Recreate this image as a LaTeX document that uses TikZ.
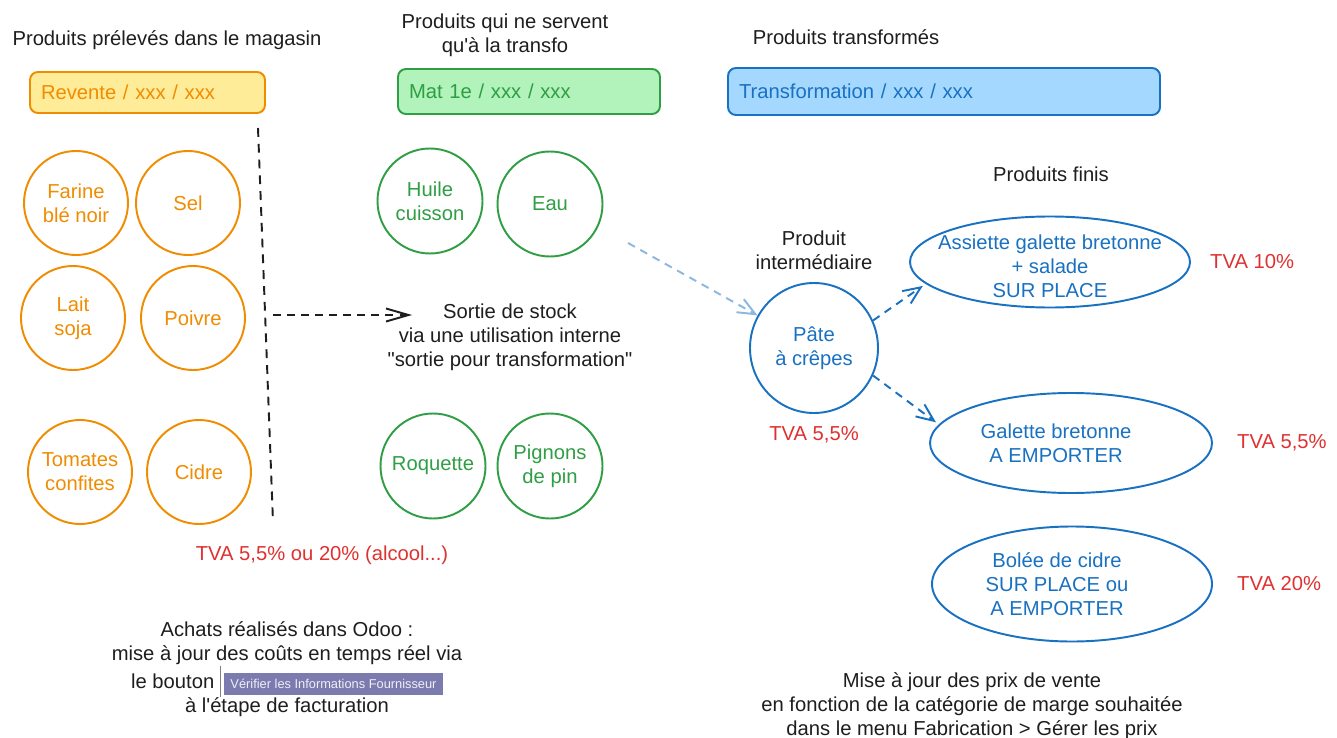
\documentclass[tikz,border=0pt]{standalone}
\usepackage{fontspec}
\setmainfont{Liberation Sans}[Ligatures=TeXOff]
\usepackage{xcolor}
\usetikzlibrary{positioning,shapes.geometric,arrows.meta}
\definecolor{orangeline}{RGB}{240,140,0}
\definecolor{yellowfill}{RGB}{255,236,153}
\definecolor{greenline}{RGB}{47,158,68}
\definecolor{greenfill}{RGB}{178,242,187}
\definecolor{blueline}{RGB}{25,113,194}
\definecolor{bluefill}{RGB}{165,216,255}
\definecolor{redtxt}{RGB}{224,49,49}
\definecolor{blacktxt}{RGB}{30,30,30}
\definecolor{boutoncol}{RGB}{124,123,176}
\newcommand{\boutonodoo}{{\color{gray}\rule[-0.8ex]{0.5pt}{2.9ex}}\,{\setlength{\fboxsep}{3.6pt}\colorbox{boutoncol}{\fontsize{7.3}{8}\selectfont\color{white!88!boutoncol}Vérifier les Informations Fournisseur}}}

\begin{document}
\begin{tikzpicture}[
	font=\fontsize{11.5}{13.7}\selectfont,
	titre/.style={text=blacktxt, align=center},
	tva/.style={text=redtxt},
	categ/.style={rectangle, rounded corners=0.16cm, line width=1.1pt, inner xsep=0.22cm, align=left},
	magasin/.style={circle, draw=orangeline, line width=1.1pt, text=orangeline, minimum size=2.08cm, inner sep=1pt, align=center},
	matiere/.style={circle, draw=greenline, line width=1.1pt, text=greenline, minimum size=2.1cm, inner sep=1pt, align=center},
	fini/.style={ellipse, draw=blueline, line width=1.1pt, inner sep=0pt},
	bluetxt/.style={text=blueline, align=center},
	separ/.style={draw=blacktxt, line width=1.1pt, dash pattern=on 5pt off 4pt},
	flux/.style={line width=1.1pt, dash pattern=on 4.5pt off 3.5pt, -{Straight Barb[length=3.5mm,width=3mm]}}
]
	\path[use as bounding box, fill=white] (0,0) rectangle (26.74,14.74);

	\node[titre] (t-magasin) at (3.34,13.94) {Produits prélevés dans le magasin};
	\node[titre] (t-matiere) at (10.10,14.04) {Produits qui ne servent\\qu'à la transfo};
	\node[titre] (t-transfo) at (16.92,14.0) {Produits transformés};

	\node[categ, draw=orangeline, fill=yellowfill, text=orangeline, text width=4.26cm, minimum height=0.82cm] (revente) at (2.95,12.89) {Revente / xxx / xxx};
	\node[categ, draw=greenline, fill=greenfill, text=greenline, text width=4.8cm, minimum height=0.9cm] (mat1e) at (10.58,12.91) {Mat 1e / xxx / xxx};
	\node[categ, draw=blueline, fill=bluefill, text=blueline, text width=8.2cm, minimum height=0.94cm] (transfo) at (18.88,12.91) {Transformation / xxx / xxx};

	\node[magasin] (farine) at (1.52,10.68) {Farine\\blé noir};
	\node[magasin] (sel) at (3.76,10.68) {Sel};
	\node[magasin] (lait) at (1.46,8.38) {Lait\\soja};
	\node[magasin] (poivre) at (3.86,8.38) {Poivre};
	\node[magasin] (tomates) at (1.60,5.30) {Tomates\\confites};
	\node[magasin] (cidre) at (3.98,5.30) {Cidre};

	\node[matiere] (huile) at (8.60,10.72) {Huile\\cuisson};
	\node[matiere] (eau) at (11.00,10.66) {Eau};
	\node[matiere] (roquette) at (8.66,5.42) {Roquette};
	\node[matiere] (pignons) at (11.00,5.42) {Pignons\\de pin};

	\coordinate (sep-haut) at (5.16,12.18);
	\coordinate (sep-bas) at (5.46,4.30);
	\draw[separ] (sep-haut) -- (sep-bas);

	\coordinate (depart) at (5.46,8.44);
	\coordinate (arrivee) at (8.24,8.44);
	\node[titre] (sortie) at (10.2,8.0) {Sortie de stock\\via une utilisation interne\\"sortie pour transformation"};
	\draw[flux, blacktxt, -{Straight Barb[length=4.5mm,width=2.6mm]}] (depart) -- (arrivee);

	\node[tva] (tva-magasin) at (6.44,3.64) {TVA 5,5\% ou 20\% (alcool...)};
	\node[titre] (achats) at (5.74,1.36) {Achats réalisés dans Odoo :\\mise à jour des coûts en temps réel via\\le bouton \boutonodoo\\à l'étape de facturation};

	\node[fini, minimum width=2.56cm, minimum height=2.6cm, text=blueline, align=center] (pate) at (16.28,7.78) {Pâte\\à crêpes};
	\node[titre, above=0.12cm of pate] (t-inter) {Produit\\intermédiaire};
	\node[tva, below=0.12cm of pate] (tva-pate) {TVA 5,5\%};

	\node[titre] (t-finis) at (21.02,11.26) {Produits finis};
	\node[fini, minimum width=5.6cm, minimum height=1.82cm] (assiette) at (21.00,9.50) {};
	\node[bluetxt, yshift=-0.08cm] at (assiette) {Assiette galette bretonne\\+ salade\\SUR PLACE};
	\node[fini, minimum width=5.64cm, minimum height=2.0cm] (galette) at (21.42,5.88) {};
	\node[bluetxt, xshift=-0.3cm] at (galette) {Galette bretonne\\A EMPORTER};
	\node[fini, minimum width=5.6cm, minimum height=2.3cm] (bolee) at (21.44,3.06) {};
	\node[bluetxt, xshift=-0.3cm] at (bolee) {Bolée de cidre\\SUR PLACE ou\\A EMPORTER};

	\node[tva, right=0.26cm of assiette] (tva-assiette) {TVA 10\%};
	\node[tva, right=0.36cm of galette] (tva-galette) {TVA 5,5\%};
	\node[tva, right=0.36cm of bolee] (tva-bolee) {TVA 20\%};

	\coordinate (vers-pate) at (12.56,9.88);
	\draw[flux, blueline!50] (vers-pate) -- (pate.150);
	\draw[flux, blueline, shorten >=2pt] (pate.25) -- (assiette.190);
	\draw[flux, blueline, shorten >=2pt] (pate.335) -- (galette.172);

	\node[titre] (prix) at (19.44,0.62) {Mise à jour des prix de vente\\en fonction de la catégorie de marge souhaitée\\dans le menu Fabrication > Gérer les prix};
\end{tikzpicture}
\end{document}
